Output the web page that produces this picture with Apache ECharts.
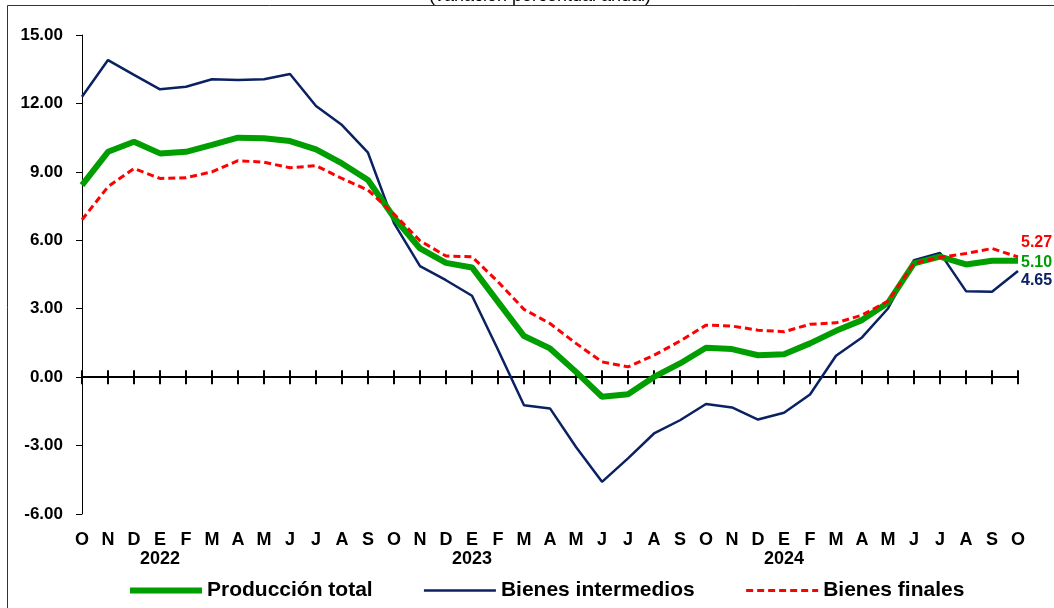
<!DOCTYPE html>
<html>
<head>
<meta charset="utf-8">
<script src="https://cdn.jsdelivr.net/npm/echarts@6/dist/echarts.min.js"></script>
<style>html,body{margin:0;padding:0;background:#fff;}#c{width:1054px;height:608px;}</style>
</head>
<body>
<div id="c"></div>
<script>
var months = ['O','N','D','E','F','M','A','M','J','J','A','S','O','N','D','E','F','M','A','M','J','J','A','S','O','N','D','E','F','M','A','M','J','J','A','S','O'];
var yearAt = {3: '2022', 15: '2023', 27: '2024'};
var produccionTotal = [8.42,9.88,10.32,9.81,9.88,10.18,10.50,10.47,10.35,9.99,9.37,8.64,7.00,5.64,5.01,4.81,3.30,1.80,1.26,0.23,-0.86,-0.75,0.01,0.60,1.29,1.23,0.96,1.00,1.48,2.03,2.50,3.26,4.99,5.28,4.94,5.10,5.10];
var bienesIntermedios = [12.29,13.90,13.25,12.62,12.73,13.06,13.03,13.06,13.29,11.89,11.05,9.84,6.75,4.87,4.25,3.57,1.20,-1.23,-1.37,-3.06,-4.59,-3.56,-2.47,-1.89,-1.18,-1.33,-1.86,-1.56,-0.76,0.94,1.74,3.01,5.13,5.45,3.77,3.74,4.65];
var bienesFinales = [6.90,8.35,9.15,8.71,8.74,9.00,9.49,9.42,9.18,9.27,8.71,8.20,7.15,5.98,5.31,5.28,4.18,2.97,2.35,1.48,0.67,0.45,0.96,1.58,2.28,2.24,2.06,1.99,2.32,2.38,2.72,3.33,4.99,5.25,5.42,5.64,5.27];
var yTicks = {min: -6, max: 15, interval: 3};

var FONT = '"Liberation Sans", Arial, sans-serif';
var chart = echarts.init(document.getElementById('c'), null, {renderer: 'canvas'});
var baseX = {
  type: 'category', data: months, boundaryGap: false, position: 'bottom',
  axisLine: {show: false}, axisTick: {show: false}, axisLabel: {show: false}, splitLine: {show: false}
};
function endLbl(color, dy) {
  return {show: true, formatter: function (p) { return Number(p.value).toFixed(2); }, color: color,
    fontFamily: FONT, fontWeight: 'bold', fontSize: 16, distance: 3, offset: [0, dy]};
}
chart.setOption({
  animation: false,
  textStyle: {fontFamily: FONT},
  grid: {left: 82, right: 36, top: 35, bottom: 94, containLabel: false},
  graphic: [
    {type: 'rect', shape: {x: 7.5, y: 5.5, width: 1200, height: 800}, style: {fill: 'none', stroke: '#333', lineWidth: 1}, z: 0},
    {type: 'text', x: 540, y: 5, style: {text: '(variación porcentual anual)', fill: '#000', font: '18px ' + FONT, textAlign: 'center', textVerticalAlign: 'bottom'}, z: 10}
  ],
  xAxis: [
    Object.assign({}, baseX, {
      axisLine: {show: true, onZero: true, onZeroAxisIndex: 0, lineStyle: {color: '#000', width: 2}},
      axisTick: {show: true, inside: false, length: 7, lineStyle: {color: '#000', width: 2}}
    }),
    Object.assign({}, baseX, {
      axisLine: {show: true, onZero: true, onZeroAxisIndex: 1, lineStyle: {color: '#000', width: 2}},
      axisTick: {show: true, inside: true, length: 7, lineStyle: {color: '#000', width: 2}}
    }),
    Object.assign({}, baseX, {
      axisLine: {show: false, onZero: false},
      axisLabel: {show: true, interval: 0, margin: 17, color: '#000', fontFamily: FONT, fontWeight: 'bold', fontSize: 18, lineHeight: 19,
        formatter: function (v, i) { return yearAt[i] ? v + '\n' + yearAt[i] : v; }}
    })
  ],
  yAxis: [{
    type: 'value', min: yTicks.min, max: yTicks.max, interval: yTicks.interval,
    axisLine: {show: true, onZero: false, lineStyle: {color: '#000', width: 1}},
    axisTick: {show: true, length: 6, lineStyle: {color: '#000'}},
    splitLine: {show: false},
    axisLabel: {margin: 19, color: '#000', fontFamily: FONT, fontWeight: 'bold', fontSize: 17,
      formatter: function (v) { return v.toFixed(2); }}
  }, {
    type: 'value', min: yTicks.min, max: yTicks.max, interval: yTicks.interval, position: 'left',
    axisLine: {show: false, onZero: false}, axisTick: {show: false}, axisLabel: {show: false}, splitLine: {show: false}
  }],
  legend: {
    top: 575, left: 122, itemWidth: 72, itemHeight: 6, itemGap: 50,
    itemStyle: {opacity: 0},
    lineStyle: {width: 'inherit'},
    textStyle: {color: '#000', fontFamily: FONT, fontWeight: 'bold', fontSize: 21},
    data: ['Producción total', 'Bienes intermedios', 'Bienes finales']
  },
  series: [
    {name: 'Bienes intermedios', type: 'line', data: bienesIntermedios, xAxisIndex: 0, yAxisIndex: 0, symbol: 'none',
      lineStyle: {color: '#0a2162', width: 2.5}, itemStyle: {color: '#0a2162'}, z: 3,
      endLabel: endLbl('#0a2162', 10)},
    {name: 'Bienes finales', type: 'line', data: bienesFinales, xAxisIndex: 0, yAxisIndex: 0, symbol: 'none',
      lineStyle: {color: '#ff0000', width: 3, type: [7, 4]}, itemStyle: {color: '#ff0000'}, z: 5,
      endLabel: endLbl('#ff0000', -14)},
    {name: 'Producción total', type: 'line', data: produccionTotal, xAxisIndex: 0, yAxisIndex: 0, symbol: 'none',
      lineStyle: {color: '#009e00', width: 6}, itemStyle: {color: '#009e00'}, z: 4,
      endLabel: endLbl('#009e00', 2)}
  ]
});
</script>
</body>
</html>
